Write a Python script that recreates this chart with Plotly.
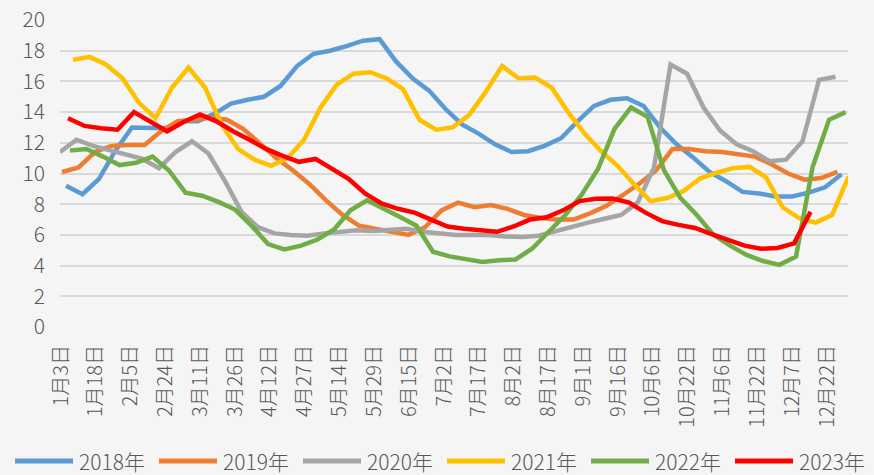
import plotly.graph_objects as go

# ---------------- data ----------------
tick_labels = ["1月3日", "1月18日", "2月5日", "2月24日", "3月11日", "3月26日", "4月12日",
               "4月27日", "5月14日", "5月29日", "6月15日", "7月2日", "7月17日", "8月2日",
               "8月17日", "9月1日", "9月16日", "10月6日", "10月22日", "11月6日", "11月22日",
               "12月7日", "12月22日"]

series_names = ["2018年", "2019年", "2020年", "2021年", "2022年", "2023年"]

v2018 = [9.2, 8.65, 9.65, 11.5, 13.0, 13.0, 12.95, 13.4, 13.4, 13.9, 14.55, 14.8, 15.0, 15.7,
         17.0, 17.8, 18.0, 18.3, 18.65, 18.75, 17.3, 16.2, 15.4, 14.2, 13.2, 12.6, 11.9, 11.4,
         11.45, 11.8, 12.3, 13.4, 14.4, 14.8, 14.9, 14.4, 13.0, 11.9, 11.05, 10.1, 9.5, 8.8,
         8.7, 8.5, 8.5, 8.75, 9.1, 9.95]
v2019 = [10.1, 10.4, 11.4, 11.8, 11.85, 11.85, 12.75, 13.4, 13.5, 13.65, 13.5, 12.9, 11.95,
         11.0, 10.2, 9.3, 8.25, 7.3, 6.6, 6.4, 6.2, 6.0, 6.5, 7.6, 8.1, 7.8, 7.95, 7.7, 7.3,
         7.1, 7.0, 7.0, 7.4, 7.9, 8.6, 9.35, 10.2, 11.6, 11.6, 11.45, 11.4, 11.25, 11.1, 10.6,
         10.0, 9.6, 9.7, 10.1]
v2020 = [11.4, 12.2, 11.8, 11.5, 11.2, 10.95, 10.35, 11.4, 12.1, 11.3, 9.5, 7.5, 6.5, 6.1,
         6.0, 5.95, 6.1, 6.2, 6.3, 6.25, 6.3, 6.4, 6.2, 6.1, 6.0, 6.0, 6.0, 5.9, 5.87, 5.95,
         6.25, 6.5, 6.8, 7.05, 7.3, 8.1, 10.4, 17.1, 16.5, 14.3, 12.8, 11.9, 11.45, 10.8, 10.9,
         12.1, 16.1, 16.3]
v2021 = [17.4, 17.6, 17.1, 16.2, 14.6, 13.6, 15.6, 16.9, 15.6, 13.2, 11.6, 10.9, 10.5, 11.0,
         12.2, 14.3, 15.8, 16.5, 16.6, 16.2, 15.5, 13.5, 12.85, 13.0, 13.8, 15.3, 17.0, 16.2,
         16.25, 15.6, 14.0, 12.6, 11.45, 10.5, 9.3, 8.2, 8.4, 8.85, 9.67, 10.05, 10.35, 10.43,
         9.75, 7.8, 7.1, 6.8, 7.3, 9.8]
v2022 = [11.5, 11.6, 11.1, 10.55, 10.7, 11.1, 10.2, 8.75, 8.55, 8.15, 7.65, 6.6, 5.4, 5.05,
         5.3, 5.7, 6.35, 7.6, 8.25, 7.75, 7.17, 6.6, 4.9, 4.6, 4.4, 4.24, 4.35, 4.4, 5.1, 6.2,
         7.28, 8.6, 10.3, 12.9, 14.3, 13.7, 10.2, 8.4, 7.28, 6.0, 5.3, 4.7, 4.3, 4.05, 4.6,
         10.4, 13.5, 14.0]
v2023 = [13.6, 13.1, 12.95, 12.85, 14.0, 13.35, 12.75, 13.35, 13.85, 13.4, 12.75, 12.2, 11.6,
         11.15, 10.76, 10.95, 10.3, 9.65, 8.7, 8.05, 7.7, 7.45, 7.0, 6.55, 6.4, 6.3, 6.2, 6.55,
         7.0, 7.15, 7.6, 8.2, 8.35, 8.37, 8.1, 7.45, 6.9, 6.65, 6.45, 6.05, 5.7, 5.3, 5.1, 5.15,
         5.45, 7.5]

series_values = [v2018, v2019, v2020, v2021, v2022, v2023]

# ---------------- layout / style ----------------
colors = ["#5B9BD5", "#ED7D31", "#A5A5A5", "#FFC000", "#70AD47", "#FF0000"]
# first point of each year's series, in tick-label units, and spacing of weekly points
start_offsets = [0.144, 0.029, -0.029, 0.345, 0.258, 0.201]
point_step = 0.4739

FONT = "Noto Sans CJK SC, Noto Sans, sans-serif"
TXT = "#595959"
BG = "#f5f5f5"

fig = go.Figure()
for name, vals, col, off in zip(series_names, series_values, colors, start_offsets):
    xs = [off + i * point_step for i in range(len(vals))]
    fig.add_trace(go.Scatter(x=xs, y=vals, mode="lines", name=name,
                             line=dict(color=col, width=4.5), showlegend=False))

W, H = 874, 475
ml, mr, mt, mb = 60, 26, 20, 148
pw, ph = W - ml - mr, H - mt - mb

# custom legend: long thick line + label, drawn below the plot
leg_y_px = 461
leg_x0_px = 15
leg_pitch = 144
leg_line = 58
for i, (name, col) in enumerate(zip(series_names, colors)):
    x0 = leg_x0_px + i * leg_pitch
    fig.add_shape(type="line", xref="paper", yref="paper",
                  x0=(x0 - ml) / pw, x1=(x0 + leg_line - ml) / pw,
                  y0=(H - mb - leg_y_px) / ph, y1=(H - mb - leg_y_px) / ph,
                  line=dict(color=col, width=5))
    fig.add_annotation(xref="paper", yref="paper", x=(x0 + leg_line + 4 - ml) / pw,
                       y=(H - mb - leg_y_px) / ph, text=name, showarrow=False,
                       xanchor="left", yanchor="middle",
                       font=dict(family=FONT, size=21, color=TXT, weight=300))

fig.update_layout(
    width=W, height=H,
    margin=dict(l=ml, r=mr, t=mt, b=mb, autoexpand=False),
    paper_bgcolor=BG, plot_bgcolor=BG,
    showlegend=False,
)
fig.update_xaxes(
    range=[-0.0287, 22.602], automargin=False,
    tickmode="array", tickvals=list(range(len(tick_labels))), ticktext=tick_labels,
    tickangle=-90, ticks="", showgrid=False, zeroline=False, showline=False,
    tickfont=dict(family=FONT, size=20, color=TXT, weight=300), ticklabelstandoff=13,
)
fig.update_yaxes(
    range=[0, 20], dtick=2, tick0=0, ticks="", automargin=False,
    showgrid=True, gridcolor="#d9d9d9", gridwidth=1.5, zeroline=False, showline=False,
    tickfont=dict(family=FONT, size=21, color=TXT, weight=300), ticklabelstandoff=14,
)

fig.write_html(
    "out.html",
    config={"displayModeBar": False},
    post_script="document.body.style.margin='0';document.body.style.background='" + BG + "';",
)
